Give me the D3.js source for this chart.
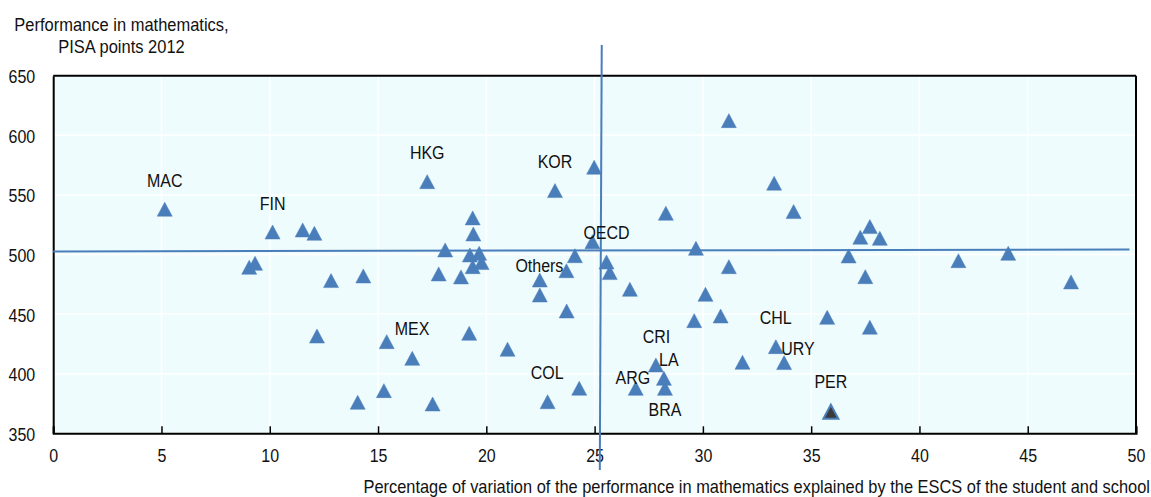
<!DOCTYPE html>
<html>
<head>
<meta charset="utf-8">
<script src="https://cdn.jsdelivr.net/npm/d3@7"></script>
<style>
  html, body { margin: 0; padding: 0; background: #ffffff; }
  svg { display: block; }
  text { font-family: "Liberation Sans", Arial, sans-serif; fill: #111; }
</style>
</head>
<body>
<svg id="chart" width="1151" height="497"></svg>
<script>
// ---------------- Data ----------------
const xValues = [5.15, 10.13, 11.52, 12.06, 9.05, 9.32, 12.83, 14.32, 12.18, 14.06,
  15.27, 15.4, 16.58, 17.52, 17.27, 19.37, 19.4, 18.1, 19.24, 19.67,
  19.37, 19.78, 17.8, 18.83, 19.21, 20.98, 23.17, 24.98, 24.9, 24.09,
  23.7, 22.47, 22.47, 23.71, 25.55, 25.7, 22.83, 24.29, 31.2, 33.29,
  34.19, 28.29, 29.68, 31.2, 26.63, 30.12, 29.6, 30.82, 35.74, 33.37,
  33.75, 31.83, 27.83, 28.2, 28.25, 26.9, 37.71, 37.27, 38.17, 36.73,
  37.5, 37.71, 41.8, 44.1, 47.0, 35.91];
const yValues = [538, 518.9, 520.6, 517.8, 489.3, 492.6, 478.1, 482, 431.6, 376,
  385.8, 426.9, 412.9, 374.6, 561.1, 530.7, 517.2, 503.8, 499.6, 501,
  489.8, 493.2, 483.7, 481.2, 433.9, 420.5, 553.6, 573.2, 510.8, 499,
  486.4, 478.6, 466, 452.6, 493.7, 484.8, 376.5, 387.8, 612.3, 559.8,
  536, 534.6, 505.2, 489.8, 470.8, 466.6, 444.5, 448.4, 447.3, 422.7,
  409.3, 409.6, 407.3, 396.1, 387.7, 387.7, 523.4, 514.5, 513.6, 498.8,
  481.4, 439, 494.8, 501, 477, 368.1];
const highlighted = [65]; // PER, drawn with dark fill

const labelText = ["MAC", "FIN", "HKG", "KOR", "OECD", "Others", "MEX", "COL", "CRI", "LA", "ARG", "BRA", "CHL", "URY", "PER"];
const labelX = [5.15, 10.13, 17.27, 23.17, 25.55, 22.45, 16.57, 22.81, 27.86, 28.43, 26.77, 28.25, 33.36, 34.39, 35.91];
const labelY = [562, 543, 585.5, 577.9, 518.3, 490.4, 438.1, 401.2, 431.1, 411.5, 397, 370.1, 447.3, 421.3, 393.3];

const xTicks = [0, 5, 10, 15, 20, 25, 30, 35, 40, 45, 50];
const yTicks = [350, 400, 450, 500, 550, 600, 650];

const hLine = [[0, 502.6], [49.7, 504.2]];      // horizontal reference (mean performance)
const vLine = [[25.33, 675.8], [25.24, 319.2]]; // vertical reference

const yTitle = ["Performance in mathematics,", "PISA points 2012"];
const xTitle = "Percentage of variation of the performance in mathematics explained by the ESCS of the student and school";

// ---------------- Layout ----------------
const svg = d3.select("#chart");
const pLeft = 53.2, pRight = 1136, pTop = 75.7, pBottom = 433.3;
const x = d3.scaleLinear().domain([0, 50]).range([pLeft, pRight]);
const y = d3.scaleLinear().domain([350, 650]).range([pBottom, pTop]);
const blue = "#4a7ebb";
const vStretch = 1.12;

// place a text at (px, py) as its visual centre line, stretched vertically
function placeText(sel, px, py, anchor) {
  sel.attr("x", 0).attr("y", 0).attr("dy", "0.36em")
    .attr("text-anchor", anchor)
    .attr("transform", `translate(${px},${py}) scale(1,${vStretch})`);
}

// background
svg.append("rect").attr("x", pLeft).attr("y", pTop)
  .attr("width", pRight - pLeft).attr("height", pBottom - pTop)
  .attr("fill", "#effcfd");

// gridlines
svg.append("g").selectAll("line").data(xTicks.slice(1, -1)).join("line")
  .attr("x1", d => x(d)).attr("x2", d => x(d))
  .attr("y1", pTop).attr("y2", pBottom)
  .attr("stroke", "#ffffff").attr("stroke-width", 1.5);
svg.append("g").selectAll("line").data(yTicks.slice(1, -1)).join("line")
  .attr("x1", pLeft).attr("x2", pRight)
  .attr("y1", d => y(d)).attr("y2", d => y(d))
  .attr("stroke", "#ffffff").attr("stroke-width", 1.5);

// axes
const xAxis = d3.axisBottom(x).tickValues(xTicks).tickSize(-7).tickFormat(d3.format("d"));
const gx = svg.append("g").attr("transform", `translate(0,${pBottom})`).call(xAxis);
gx.select(".domain").attr("stroke", "#000").attr("stroke-width", 2);
gx.selectAll(".tick line").attr("stroke", "#000").attr("stroke-width", 1.5);
gx.selectAll(".tick text").attr("font-size", 16).attr("fill", "#111")
  .attr("font-family", "Liberation Sans, Arial, sans-serif")
  .each(function() { placeText(d3.select(this), 0, 22, "middle"); });

const yAxis = d3.axisLeft(y).tickValues(yTicks).tickSize(0);
const gy = svg.append("g").attr("transform", `translate(${pLeft},0)`).call(yAxis);
gy.select(".domain").attr("stroke", "#000").attr("stroke-width", 2);
gy.selectAll(".tick text").attr("font-size", 16).attr("fill", "#111")
  .attr("font-family", "Liberation Sans, Arial, sans-serif")
  .each(function() { placeText(d3.select(this), -18, 0.5, "end"); });

// top and right border
svg.append("line").attr("x1", pLeft).attr("x2", pRight).attr("y1", pTop).attr("y2", pTop)
  .attr("stroke", "#000").attr("stroke-width", 2);
svg.append("line").attr("x1", pRight).attr("x2", pRight).attr("y1", pTop).attr("y2", pBottom)
  .attr("stroke", "#000").attr("stroke-width", 2);

// reference lines
const line = d3.line().x(d => x(d[0])).y(d => y(d[1]));
svg.append("path").attr("d", line(hLine)).attr("stroke", blue).attr("stroke-width", 2).attr("fill", "none");
svg.append("path").attr("d", line(vLine)).attr("stroke", blue).attr("stroke-width", 2).attr("fill", "none");

// points
const tri = "M0,-7L7.5,7L-7.5,7Z";
const pts = xValues.map((v, i) => ({x: v, y: yValues[i], hi: highlighted.includes(i)}));
svg.append("g").selectAll("path").data(pts).join("path")
  .attr("d", tri)
  .attr("transform", d => `translate(${x(d.x)},${y(d.y)})`)
  .attr("fill", d => d.hi ? "#3a3a3a" : blue)
  .attr("stroke", blue).attr("stroke-width", d => d.hi ? 2 : 0.5)
  .attr("stroke-linejoin", "miter");

// labels
svg.append("g").selectAll("text").data(labelText).join("text")
  .attr("font-size", 16).text(d => d)
  .each(function(d, i) { placeText(d3.select(this), x(labelX[i]), y(labelY[i]), "middle"); });

// titles
svg.append("g").selectAll("text").data(yTitle).join("text")
  .attr("font-size", 16.5).text(d => d)
  .each(function(d, i) { placeText(d3.select(this), 121.5, 24 + i * 22, "middle"); });

svg.append("text").attr("font-size", 16.4).text(xTitle)
  .call(s => placeText(s, 1150, 486, "end"));
</script>
</body>
</html>
